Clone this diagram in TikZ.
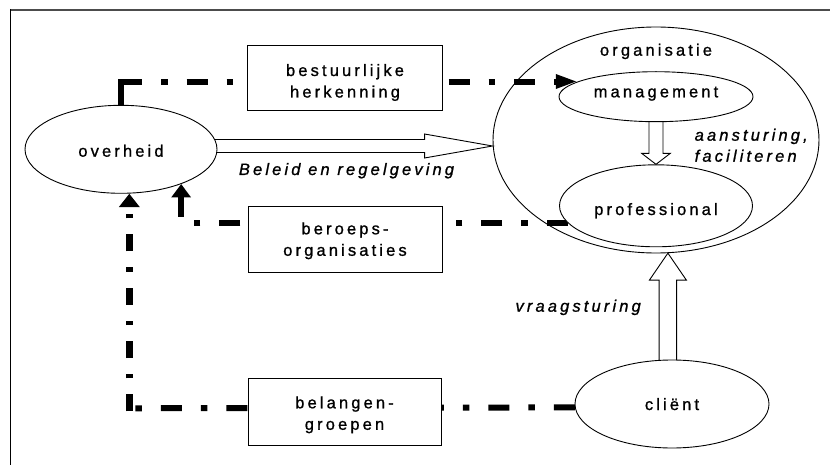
\documentclass[tikz,border=0pt]{standalone}
\usepackage{fontspec}
\setmainfont{Liberation Sans}[LetterSpace=19,FakeBold=1]
\usetikzlibrary{shapes.geometric,arrows.meta,calc}
\pgfdeclarelayer{lines}
\pgfsetlayers{lines,main}
\newcommand\rz[2]{\raisebox{#1}[0pt][0pt]{#2}}
\newcommand\twol[3]{\raisebox{#1}[0pt][0pt]{\begin{tabular}[t]{@{}c@{}}#2\\#3\end{tabular}}}
\tikzset{
  every node/.style={font=\fontsize{16.5}{21.5}\selectfont, inner sep=0pt},
  ital/.style={font=\fontsize{16.5}{21}\selectfont\itshape},
  oval/.style={ellipse, draw, line width=0.9pt, fill=white},
  box/.style={rectangle, draw, line width=0.9pt, fill=white},
  hdd/.style={line width=6pt, dash pattern=on 21pt off 19pt on 6.5pt off 19pt},
  vdd/.style={line width=7pt, dash pattern=on 17pt off 16pt on 4.3pt off 16pt},
  blockarrow/.style={draw, fill=white, line width=0.9pt, line join=miter},
  vtip/.style={-{Triangle[length=13.4pt,width=19pt]}},
  htip/.style={-{Triangle[length=22pt,width=13pt]}},
  topframe/.style={line width=2pt, draw=black!70},
  leftframe/.style={line width=1.3pt, draw=black},
}
\begin{document}
\begin{tikzpicture}[x=1pt,y=-1pt]
\useasboundingbox (0,0) rectangle (830,465);
\draw[topframe] (10,10) -- (830,10);
\draw[leftframe] (10.7,9) -- (10.7,465);

% nodes
\node[oval, fill=none, minimum width=326pt, minimum height=226pt] (org) at (656,140) {};
\node[anchor=base] (orglbl) at (656,55.7) {organisatie};
\node[oval, minimum width=194pt, minimum height=50pt] (mg) at (656,96.7) {\rz{-0.6pt}{management}};
\node[oval, minimum width=193pt, minimum height=82pt] (prof) at (656,205.8) {\rz{-9.2pt}{professional}};
\node[oval, minimum width=192pt, minimum height=88pt] (ov) at (121,149.3) {\rz{-7.4pt}{overheid}};
\node[oval, minimum width=194pt, minimum height=88pt] (cl) at (672,404) {\rz{-6pt}{cliënt}};
\node[box, minimum width=194.6pt, minimum height=65.7pt] (bh) at (345,77.9) {\twol{1.9pt}{bestuurlijke}{herkenning}};
\node[box, minimum width=194pt, minimum height=66pt] (bo) at (345,239) {\twol{4.7pt}{beroeps-}{organisaties}};
\node[box, minimum width=193pt, minimum height=67pt] (bg) at (344.5,411.5) {\twol{3.2pt}{belangen-}{groepen}};

\node[ital, anchor=base] (tbel) at (346.5,175) {Beleid en regelgeving};
\node[ital, anchor=west] (taan) at (694.5,140.7) {\raisebox{0pt}[0pt][0pt]{\begin{tabular}[t]{@{}l@{}}aansturing,\\faciliteren\end{tabular}}};
\node[ital, anchor=base east] (tvr) at (641,311.7) {vraagsturing};

\coordinate (bcorner) at (129.3,408.3);
\coordinate (bt) at ($(org.west)+(0,6)$);
\coordinate (vt) at (org.-84);

\begin{pgfonlayer}{lines}
  % bestuurlijke herkenning
  \draw[line width=6pt] (ov.north) -- ($(ov.north |- mg.169.4)+(0,-3)$);
  \draw[hdd, htip] (ov.north |- mg.169.4) -- (mg.169.4);
  % beroepsorganisaties
  \draw[hdd, vtip] (prof.191.6) -| (ov.-30);
  % belangengroepen
  \draw[hdd] (cl.182.4) -- (bcorner);
  \draw[vdd, -{Triangle[length=13.3pt,width=20pt]}] ($(bcorner)+(0,3)$) -- (bcorner |- ov.south);
  % Beleid en regelgeving
  \draw[blockarrow] ($(ov.center |- bt)+(0,-6.5)$) -- ($(bt)+(-68,-6.5)$) -- ($(bt)+(-68,-12)$) -- (bt)
     -- ($(bt)+(-68,12)$) -- ($(bt)+(-68,6.5)$) -- ($(ov.center |- bt)+(0,6.5)$) -- cycle;
  % aansturing
  \draw[blockarrow] ($(mg.center)+(-7,0)$) -- ($(prof.north)+(-7,-11)$) -- ($(prof.north)+(-14.3,-11)$) -- (prof.north)
     -- ($(prof.north)+(14.3,-11)$) -- ($(prof.north)+(7,-11)$) -- ($(mg.center)+(7,0)$) -- cycle;
  % vraagsturing
  \draw[blockarrow] ($(vt |- cl.center)+(-8.8,0)$) -- ($(vt)+(-8.8,27)$) -- ($(vt)+(-18.5,27)$) -- (vt)
     -- ($(vt)+(18.5,27)$) -- ($(vt)+(8.8,27)$) -- ($(vt |- cl.center)+(8.8,0)$) -- cycle;
\end{pgfonlayer}
\end{tikzpicture}
\end{document}
